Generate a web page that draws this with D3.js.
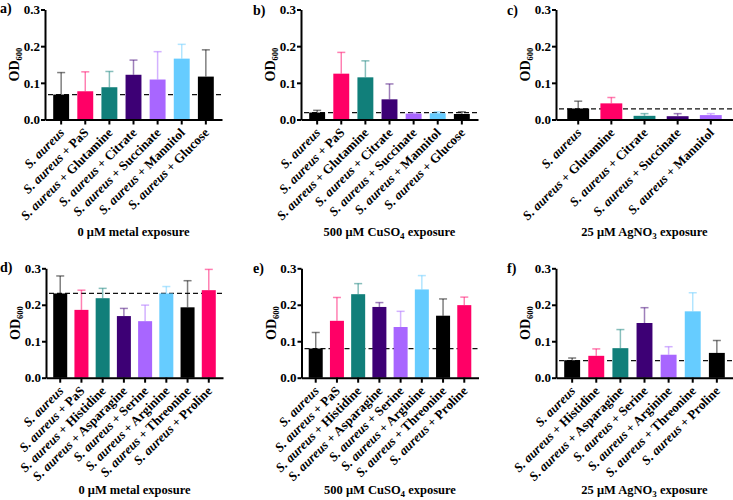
<!DOCTYPE html>
<html><head><meta charset="utf-8">
<script src="https://cdn.jsdelivr.net/npm/d3@7"></script>
<style>
body{margin:0;background:#fff}
svg{display:block}
</style>
</head><body><svg id="chart" width="733" height="500"></svg>
<script>
// ---------- data ----------
const catsA = ["S. aureus","S. aureus + PaS","S. aureus + Glutamine","S. aureus + Citrate","S. aureus + Succinate","S. aureus + Mannitol","S. aureus + Glucose"];
const meansA = [0.068,0.077,0.088,0.122,0.109,0.166,0.117];
const errsA  = [0.060,0.053,0.043,0.040,0.076,0.039,0.073];
const refA = 0.068;

const catsB = catsA;
const meansB = [0.019,0.125,0.115,0.055,0.016,0.017,0.015];
const errsB  = [0.006,0.058,0.045,0.042,0.002,0.004,0.006];
const refB = 0.019;

const catsC = ["S. aureus","S. aureus + Glutamine","S. aureus + Citrate","S. aureus + Succinate","S. aureus + Mannitol"];
const meansC = [0.030,0.044,0.010,0.009,0.012];
const errsC  = [0.020,0.016,0.006,0.007,0.004];
const refC = 0.029;

const catsD = ["S. aureus","S. aureus + PaS","S. aureus + Histidine","S. aureus + Asparagine","S. aureus + Serine","S. aureus + Arginine","S. aureus + Threonine","S. aureus + Proline"];
const meansD = [0.231,0.186,0.218,0.169,0.155,0.231,0.193,0.240];
const errsD  = [0.048,0.054,0.027,0.021,0.044,0.019,0.073,0.057];
const refD = 0.231;

const catsE = catsD;
const meansE = [0.080,0.156,0.229,0.194,0.139,0.242,0.170,0.199];
const errsE  = [0.044,0.064,0.029,0.012,0.043,0.038,0.046,0.022];
const refE = 0.080;

const catsF = ["S. aureus","S. aureus + Histidine","S. aureus + Asparagine","S. aureus + Serine","S. aureus + Arginine","S. aureus + Threonine","S. aureus + Proline"];
const meansF = [0.048,0.060,0.081,0.150,0.063,0.182,0.068];
const errsF  = [0.006,0.019,0.051,0.042,0.022,0.051,0.034];
const refF = 0.047;

const yTicks = [0.0,0.1,0.2,0.3];
const titles = ["0 μM metal exposure","500 μM CuSO_4 exposure","25 μM AgNO_3 exposure"];
const letters = ["a)","b)","c)","d)","e)","f)"];

// ---------- style ----------
const FONT = "'Liberation Serif', 'Times New Roman', serif";
const BLACK="#000000", PINK="#FF0066", TEAL="#117F7A", PURPLE="#3D0075", LAV="#A866FF", SKY="#66CCFF";
const colors7 = [BLACK,PINK,TEAL,PURPLE,LAV,SKY,BLACK];
const colors8 = [BLACK,PINK,TEAL,PURPLE,LAV,SKY,BLACK,PINK];

const panels = [
  {cats:catsA, means:meansA, errs:errsA, ref:refA, colors:colors7, title:titles[0], letter:letters[0], x0:45,  yT:9.5,   yB:119.5, lx:0,   ly:13,  ty:236},
  {cats:catsB, means:meansB, errs:errsB, ref:refB, colors:colors7, title:titles[1], letter:letters[1], x0:301, yT:9.5,   yB:119.5, lx:253, ly:15,  ty:236},
  {cats:catsC, means:meansC, errs:errsC, ref:refC, colors:colors7, title:titles[2], letter:letters[2], x0:556, yT:9.5,   yB:119.5, lx:507, ly:15,  ty:236},
  {cats:catsD, means:meansD, errs:errsD, ref:refD, colors:colors8, title:titles[0], letter:letters[3], x0:46,  yT:268.3, yB:377.7, lx:0,   ly:272, ty:494},
  {cats:catsE, means:meansE, errs:errsE, ref:refE, colors:colors8, title:titles[1], letter:letters[4], x0:301.5,yT:268.3,yB:377.7, lx:253, ly:273, ty:494},
  {cats:catsF, means:meansF, errs:errsF, ref:refF, colors:colors7, title:titles[2], letter:letters[5], x0:556, yT:268.3, yB:377.7, lx:507, ly:273, ty:494}
];
const AXW = 177;

const svg = d3.select("#chart");

function styleText(sel){ return sel.style("font-family",FONT).style("font-weight","bold").attr("fill","#000"); }

function addSubText(sel, str, subSize){
  const parts = str.split(/_(\d)/);
  parts.forEach((p,i)=>{
    if(i%2===0){ if(p) sel.append("tspan").text(p).attr("dy", i>0? -3: null); }
    else sel.append("tspan").text(p).style("font-size", subSize).attr("dy", 3);
  });
}

panels.forEach(p=>{
  const g = svg.append("g");
  const x = d3.scaleBand().domain(p.cats).range([p.x0, p.x0+AXW]).paddingInner(0.34).paddingOuter(0.34);
  const y = d3.scaleLinear().domain([0,0.3]).range([p.yB, p.yT]);

  // reference dashed line
  g.append("line").attr("x1", p.x0+3).attr("x2", p.x0+AXW).attr("y1", y(p.ref)).attr("y2", y(p.ref))
    .attr("stroke","#111").attr("stroke-width",1.3).attr("stroke-dasharray","5,3");

  const data = p.cats.map((c,i)=>({c, m:p.means[i], e:p.errs[i], col:p.colors[i]}));
  const cx = d=> x(d.c)+x.bandwidth()/2;
  // error bars
  g.selectAll(".eb").data(data).join("line")
    .attr("x1",cx).attr("x2",cx).attr("y1",d=>y(d.m)).attr("y2",d=>y(d.m+d.e))
    .attr("stroke",d=>d.col).attr("stroke-opacity",0.5).attr("stroke-width",1.5);
  g.selectAll(".cap").data(data).join("line")
    .attr("x1",d=>cx(d)-4).attr("x2",d=>cx(d)+4).attr("y1",d=>y(d.m+d.e)).attr("y2",d=>y(d.m+d.e))
    .attr("stroke",d=>d.col).attr("stroke-opacity",0.5).attr("stroke-width",1.5);

  // bars
  g.selectAll(".bar").data(data).join("rect")
    .attr("x",d=>x(d.c)).attr("width",x.bandwidth())
    .attr("y",d=>y(d.m)).attr("height",d=>y(0)-y(d.m))
    .attr("fill",d=>d.col);

  // y axis
  const ya = g.append("g").attr("transform",`translate(${p.x0},0)`)
    .call(d3.axisLeft(y).tickValues(yTicks).tickFormat(d3.format(".1f")).tickSize(4).tickSizeOuter(0));
  ya.attr("font-family",null);
  ya.select(".domain").attr("stroke","#000").attr("stroke-width",2);
  ya.selectAll(".tick line").attr("stroke","#000").attr("stroke-width",2);
  styleText(ya.selectAll(".tick text")).style("font-size","13px").attr("x",-5);

  // x axis
  const xa = g.append("g").attr("transform",`translate(0,${p.yB})`)
    .call(d3.axisBottom(x).tickSize(5).tickSizeOuter(0).tickFormat(""));
  xa.select(".domain").attr("stroke","#000").attr("stroke-width",2);
  xa.selectAll(".tick line").attr("stroke","#000").attr("stroke-width",2);
  xa.selectAll(".tick text").remove();

  // x labels
  p.cats.forEach(c=>{
    const tx = x(c)+x.bandwidth()/2+4, ty = p.yB+14;
    const t = styleText(g.append("text")).attr("transform",`translate(${tx},${ty}) rotate(-45)`)
      .attr("text-anchor","end").style("font-size","13px");
    const rest = c.replace("S. aureus","");
    t.append("tspan").style("font-style","italic").text("S. aureus");
    if(rest) t.append("tspan").text(rest.replace(/^ /,"\u00a0"));
  });

  // y label
  const yl = styleText(g.append("text")).attr("transform",`translate(${p.x0-26},${(p.yT+p.yB)/2}) rotate(-90)`)
    .attr("text-anchor","middle").style("font-size","14px");
  yl.append("tspan").text("OD");
  yl.append("tspan").text("600").style("font-size","8.5px").attr("dy",3);

  // title
  const tt = styleText(g.append("text")).attr("x",p.x0+AXW/2).attr("y",p.ty).attr("text-anchor","middle").style("font-size","12.5px");
  addSubText(tt, p.title, "9px");

  // letter
  styleText(g.append("text")).attr("x",p.lx).attr("y",p.ly).style("font-size","14px").text(p.letter);
});
</script>
</body></html>
